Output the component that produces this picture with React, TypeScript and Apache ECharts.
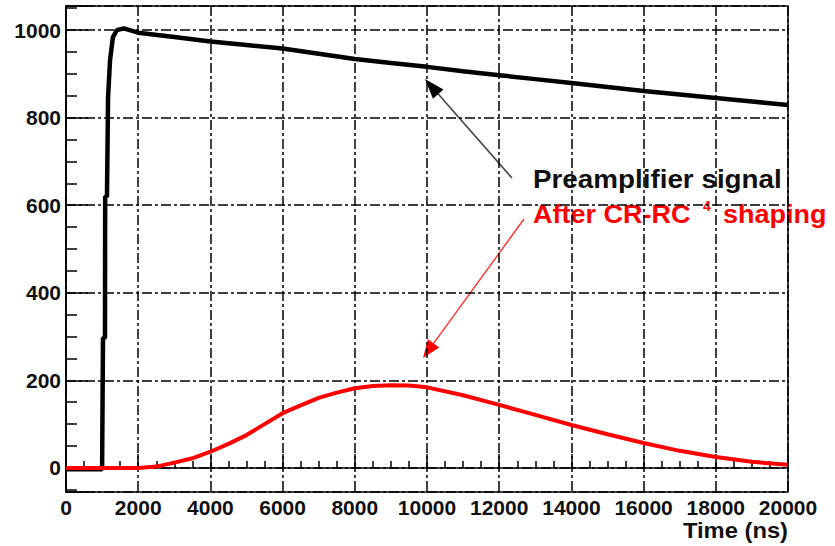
import React, { useEffect, useRef } from "react";
import * as echarts from "echarts";

const timeTicks = [0, 2000, 4000, 6000, 8000, 10000, 12000, 14000, 16000, 18000, 20000];
const yTicks = [0, 200, 400, 600, 800, 1000];

// Preamplifier signal (time ns, amplitude)
const preampTime = [0, 1000, 1025, 1080, 1085, 1135, 1165, 1220, 1300, 1410, 1600, 2000, 3000, 4000, 5000, 6000, 7000, 8000, 9000, 10000, 11000, 12000, 13000, 14000, 15000, 16000, 17000, 18000, 19000, 20000];
const preampValue = [-3, -3, 297, 297, 620, 620, 847, 931, 984, 1000, 1004, 994, 984, 974, 966, 958, 946, 934, 925, 916, 906, 897, 888, 879, 870, 861, 853, 845, 837, 829];

// After CR-RC^4 shaping
const shapedTime = [0, 2000, 2500, 3000, 3500, 4000, 4500, 5000, 5500, 6000, 6500, 7000, 7500, 8000, 8500, 9000, 9500, 10000, 11000, 12000, 13000, 14000, 15000, 16000, 17000, 18000, 19000, 20000];
const shapedValue = [0, 0, 3, 12, 22, 37, 55, 75, 100, 125, 143, 160, 172, 182, 187, 189, 188, 184, 166, 144, 121, 98, 77, 57, 39, 25, 14, 7];

const FONT = "'Liberation Sans', Arial, Helvetica, sans-serif";

function arrow(tail: number[], tip: number[], L: number, W: number, lineColor: string, headColor: string, lw: number) {
  const dx = tail[0] - tip[0];
  const dy = tail[1] - tip[1];
  const len = Math.hypot(dx, dy);
  const ux = dx / len, uy = dy / len;
  const bx = tip[0] + ux * L, by = tip[1] + uy * L;
  const px = -uy, py = ux;
  return [
    { type: "line", shape: { x1: tail[0], y1: tail[1], x2: bx, y2: by }, style: { stroke: lineColor, lineWidth: lw }, silent: true },
    {
      type: "polygon",
      shape: { points: [[tip[0], tip[1]], [bx + px * W, by + py * W], [bx - px * W, by - py * W]] },
      style: { fill: headColor },
      silent: true,
    },
  ];
}

export default function App() {
  const ref = useRef<HTMLDivElement>(null);
  useEffect(() => {
    if (!ref.current) return;
    const chart = echarts.init(ref.current, null, { renderer: "svg" });
    const gridDash = { color: "#000", width: 1.5, type: [10, 3, 3, 3] as any };
    const option: any = {
      animation: false,
      backgroundColor: "#fff",
      grid: {
        left: 66, right: 47, top: 6, bottom: 54,
        show: true, borderColor: "#000", borderWidth: 1.5, backgroundColor: "transparent",
        outerBoundsMode: "none",
      },
      xAxis: {
        type: "value",
        min: timeTicks[0],
        max: timeTicks[timeTicks.length - 1],
        interval: timeTicks[1] - timeTicks[0],
        axisLine: { show: true, lineStyle: { color: "#000", width: 1.5 } },
        axisTick: { show: true, inside: true, length: 14, lineStyle: { color: "#000", width: 1.5 } },
        minorTick: { show: true, splitNumber: 4, length: 7, lineStyle: { color: "#000", width: 1.5 } },
        splitLine: { show: true, lineStyle: gridDash },
        axisLabel: {
          color: "#111", fontFamily: FONT, fontWeight: "bold", fontSize: 21, margin: 5,
          formatter: (v: number) => String(v),
        },
      },
      yAxis: {
        type: "value",
        min: -55,
        max: 1055,
        splitNumber: 5,
        axisLine: { show: true, lineStyle: { color: "#000", width: 1.5 } },
        axisTick: { show: true, inside: true, length: 22, lineStyle: { color: "#000", width: 1.5 } },
        minorTick: { show: true, splitNumber: 4, length: 11, lineStyle: { color: "#000", width: 1.5 } },
        splitLine: { show: true, lineStyle: gridDash },
        axisLabel: {
          color: "#111", fontFamily: FONT, fontWeight: "bold", fontSize: 21, margin: 5,
          showMinLabel: false, showMaxLabel: false,
          formatter: (v: number) => (yTicks.indexOf(v) >= 0 ? String(v) : ""),
        },
      },
      series: [
        {
          name: "Preamplifier signal",
          type: "line",
          data: preampTime.map((t, i) => [t, preampValue[i]]),
          showSymbol: false,
          lineStyle: { color: "#000", width: 4.5 },
          z: 3,
        },
        {
          name: "After CR-RC4 shaping",
          type: "line",
          data: shapedTime.map((t, i) => [t, shapedValue[i]]),
          showSymbol: false,
          lineStyle: { color: "#ff0000", width: 4 },
          z: 4,
        },
      ],
      graphic: [
        ...arrow([512, 178], [425, 79], 20, 7, "#444", "#000", 1.6),
        ...arrow([524, 219], [423, 358], 18, 7, "#ff3030", "#ff0000", 1.4),
        {
          type: "text", x: 533, y: 179, scaleX: 1.07,
          style: { text: "Preamplifier signal", fill: "#111", font: `bold 26px ${FONT}`, textVerticalAlign: "middle" },
        },
        {
          type: "text", x: 533, y: 214, scaleX: 1.08,
          style: { text: "After CR-RC", fill: "#ff0000", font: `bold 25px ${FONT}`, textVerticalAlign: "middle" },
        },
        {
          type: "text", x: 703, y: 206,
          style: { text: "4", fill: "#ff0000", font: `bold 14px ${FONT}`, textVerticalAlign: "middle" },
        },
        {
          type: "text", x: 723, y: 214, scaleX: 1.08,
          style: { text: "shaping", fill: "#ff0000", font: `bold 25px ${FONT}`, textVerticalAlign: "middle" },
        },
        {
          type: "text", x: 788, y: 530, scaleX: 1.08,
          style: { text: "Time (ns)", fill: "#111", font: `bold 22px ${FONT}`, textAlign: "right", textVerticalAlign: "middle" },
        },
      ],
    };
    chart.setOption(option);
    return () => chart.dispose();
  }, []);
  return <div ref={ref} style={{ position: "fixed", left: 0, top: 0, width: 835, height: 546 }} />;
}
